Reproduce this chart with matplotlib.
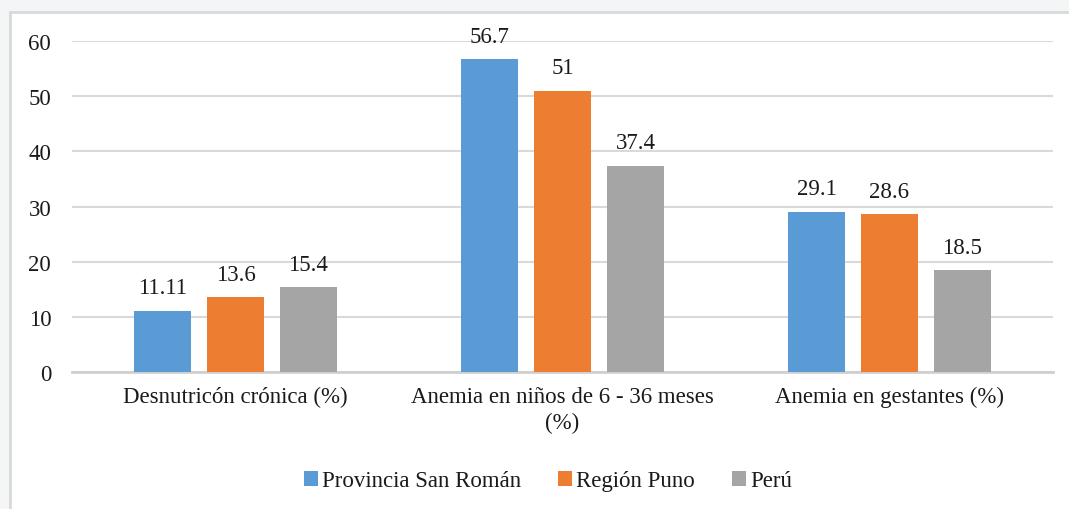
import matplotlib.pyplot as plt
import numpy as np
from matplotlib.patches import Rectangle

plt.rcParams['font.family'] = ['Liberation Serif', 'DejaVu Serif']

categorias = ['Desnutricón crónica (%)', 'Anemia en niños de 6 - 36 meses\n(%)',
              'Anemia en gestantes (%)']
series = ['Provincia San Román', 'Región Puno', 'Perú']
san_roman = [11.11, 56.7, 29.1]
puno = [13.6, 51, 28.6]
peru = [15.4, 37.4, 18.5]
etiquetas = [['11.11', '56.7', '29.1'], ['13.6', '51', '28.6'], ['15.4', '37.4', '18.5']]
colores = ['#5B9BD5', '#ED7D31', '#A5A5A5']

fig = plt.figure(figsize=(10.69, 5.10), dpi=100)
fig.patch.set_facecolor('#f3f5f7')
# marco del grafico
fig.add_artist(Rectangle((10 / 1069, -0.05), 1.1, 1 - 13 / 510 + 0.05, transform=fig.transFigure,
                         facecolor='white', edgecolor='#d9d9d9', linewidth=2, zorder=0))

ax = fig.add_axes([0.0674, 0.268, 0.9176, 0.6496])
ax.set_facecolor('none')

x = np.arange(len(categorias))
ancho = 0.174
paso = 0.223
valores = [san_roman, puno, peru]
for i, (serie, vals) in enumerate(zip(series, valores)):
    barras = ax.bar(x + (i - 1) * paso, vals, ancho, color=colores[i], label=serie, zorder=3)
    for b, txt in zip(barras, etiquetas[i]):
        ax.annotate(txt, xy=(b.get_x() + b.get_width() / 2, b.get_height()),
                    xytext=(0, 9), textcoords='offset points',
                    ha='center', va='bottom', fontsize=16.5, color='#1a1a1a')

ax.set_xlim(-0.5, 2.5)
ax.set_ylim(0, 60)
ax.set_yticks(range(0, 61, 10))
ax.set_xticks(x)
ax.set_xticklabels(categorias, fontsize=16.5, color='#1a1a1a', linespacing=1.3)
ax.tick_params(axis='y', labelsize=16.5, colors='#1a1a1a', length=0, pad=15)
ax.tick_params(axis='x', length=0, pad=10)
ax.grid(axis='y', color='#d9d9d9', linewidth=1.5, zorder=0)
for s in ['top', 'right', 'left']:
    ax.spines[s].set_visible(False)
ax.spines['bottom'].set_color('#d0d0d0')
ax.spines['bottom'].set_linewidth(2)

fig.legend(loc='center', bbox_to_anchor=(548 / 1069, 0.055), ncol=3, frameon=False,
           fontsize=16.5, handlelength=0.6, handleheight=0.6, handletextpad=0.2,
           columnspacing=1.6, labelcolor='#1a1a1a')

fig.savefig('out.png', dpi=100, facecolor=fig.get_facecolor())
